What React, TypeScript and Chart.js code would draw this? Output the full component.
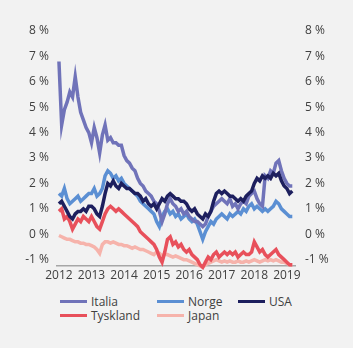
import React, { useEffect, useRef } from "react";
import { Chart, registerables } from "chart.js";

Chart.register(...registerables);

// Monthly observations, Jan 2012 .. Mar 2019
const dates: number[] = Array.from({ length: 87 }, (_, i) => 2012 + i / 12);

const yearTicks = [2012, 2013, 2014, 2015, 2016, 2017, 2018, 2019];

const italia = [
  6.8, 4.3, 4.9, 5.2, 5.6, 5.4, 6.2, 5.4, 4.8, 4.5,
  4.2, 4.0, 3.6, 4.2, 3.8, 3.2, 3.9, 4.3, 3.7, 3.8,
  3.6, 3.6, 3.5, 3.5, 3.1, 2.9, 2.8, 2.6, 2.5, 2.2,
  2.0, 1.9, 1.7, 1.6, 1.5, 1.3, 1.2, 0.9, 0.5, 0.8,
  1.2, 1.4, 1.2, 1.1, 0.9, 1.0, 0.8, 0.9, 0.7, 0.6,
  0.5, 0.5, 0.4, 0.3, 0.4, 0.7, 0.9, 1.1, 1.2, 1.3,
  1.4, 1.3, 1.2, 1.4, 1.1, 1.2, 1.0, 1.2, 1.3, 1.2,
  1.5, 1.6, 1.7, 1.4, 1.2, 1.1, 2.3, 2.2, 2.5, 2.4,
  2.8, 2.9, 2.5, 2.2, 2.0, 1.9, 1.9,
];

const usa = [
  1.2, 1.3, 1.1, 0.9, 0.7, 0.6, 0.8, 0.9, 0.9, 1.0,
  0.9, 1.1, 1.1, 1.0, 0.8, 0.7, 1.1, 1.6, 2.0, 1.9,
  2.1, 1.9, 1.8, 2.0, 1.9, 1.8, 1.8, 1.7, 1.6, 1.6,
  1.5, 1.3, 1.4, 1.2, 1.1, 1.2, 1.0, 1.2, 1.4, 1.3,
  1.5, 1.6, 1.5, 1.4, 1.4, 1.3, 1.3, 1.2, 1.0, 0.9,
  1.0, 0.8, 0.7, 0.6, 0.8, 0.7, 0.9, 1.3, 1.6, 1.7,
  1.6, 1.7, 1.6, 1.5, 1.5, 1.4, 1.3, 1.4, 1.3, 1.5,
  1.6, 1.7, 2.0, 2.2, 2.1, 2.3, 2.2, 2.3, 2.2, 2.4,
  2.3, 2.4, 2.1, 1.9, 1.8, 1.6, 1.7,
];

const norge = [
  1.6, 1.5, 1.8, 1.4, 1.2, 1.3, 1.4, 1.5, 1.3, 1.4,
  1.5, 1.6, 1.6, 1.8, 1.5, 1.6, 1.8, 2.3, 2.5, 2.4,
  2.2, 2.3, 2.1, 2.2, 2.0, 1.9, 1.8, 1.7, 1.6, 1.5,
  1.3, 1.2, 1.1, 1.0, 0.9, 0.8, 0.5, 0.3, 0.7, 0.9,
  1.0, 0.8, 0.9, 0.7, 0.8, 0.6, 0.7, 0.8, 0.6, 0.5,
  0.6, 0.4, 0.1, -0.2, 0.1, 0.3, 0.5, 0.4, 0.6, 0.7,
  0.8, 0.7, 0.6, 0.8, 0.7, 0.8, 0.9, 0.8, 1.0, 0.9,
  1.1, 1.2, 1.0, 1.1, 1.0, 0.9, 1.0, 0.9, 1.0, 1.1,
  1.3, 1.2, 1.0, 0.9, 0.8, 0.7, 0.7,
];

const tyskland = [
  0.9, 1.0, 0.6, 0.7, 0.5, 0.2, 0.4, 0.6, 0.5, 0.7,
  0.6, 0.5, 0.7, 0.5, 0.3, 0.2, 0.5, 0.8, 1.0, 1.1,
  1.0, 0.9, 1.0, 0.9, 0.8, 0.7, 0.6, 0.5, 0.4, 0.3,
  0.1, 0.0, -0.1, -0.2, -0.3, -0.4, -0.6, -0.9, -1.1, -0.7,
  -0.2, -0.1, -0.4, -0.3, -0.5, -0.4, -0.6, -0.7, -0.6, -0.8,
  -0.9, -1.0, -1.2, -1.3, -1.1, -0.9, -1.0, -0.8, -0.7, -0.9,
  -0.8, -0.7, -0.8, -0.7, -0.8, -0.7, -0.9, -0.8, -0.7, -0.8,
  -0.8, -0.7, -0.3, -0.5, -0.7, -0.6, -0.8, -0.9, -0.8, -0.7,
  -0.6, -0.8, -0.9, -1.0, -1.1, -1.2, -1.2,
];

const japan = [
  -0.05, -0.1, -0.15, -0.2, -0.2, -0.25, -0.3, -0.3, -0.35, -0.35,
  -0.4, -0.4, -0.45, -0.5, -0.6, -0.75, -0.4, -0.3, -0.3, -0.35,
  -0.3, -0.35, -0.4, -0.4, -0.45, -0.45, -0.5, -0.55, -0.5, -0.55,
  -0.6, -0.6, -0.65, -0.7, -0.75, -0.8, -0.7, -0.75, -0.85, -0.8,
  -0.8, -0.85, -0.9, -0.85, -0.9, -0.95, -1.0, -1.0, -1.05, -1.1,
  -1.15, -1.2, -1.25, -1.3, -1.2, -1.15, -1.1, -1.05, -1.0, -1.05,
  -1.1, -1.05, -1.1, -1.05, -1.1, -1.1, -1.05, -1.1, -1.1, -1.05,
  -1.1, -1.05, -1.0, -1.05, -1.1, -1.05, -1.0, -1.05, -1.0, -1.05,
  -1.0, -1.05, -1.1, -1.1, -1.15, -1.2, -1.2,
];

const seriesNames = ["Italia", "Norge", "USA", "Tyskland", "Japan"];
const seriesColors = ["#7073b9", "#5b8fd3", "#1d1f5e", "#e8505b", "#f6b3ab"];
const seriesValues = [italia, norge, usa, tyskland, japan];
const drawOrder = [1, 2, 0, 3, 4];

const FONT = "'Open Sans', sans-serif";
const TEXT = "#404040";

export default function App() {
  const ref = useRef<HTMLCanvasElement | null>(null);

  useEffect(() => {
    if (!ref.current) return;
    const datasets = seriesNames.map((name, i) => ({
      label: name,
      data: dates.map((d, k) => ({ x: d, y: seriesValues[i][k] })),
      borderColor: seriesColors[i],
      backgroundColor: seriesColors[i],
      borderWidth: 3.5,
      pointRadius: 0,
      tension: 0,
      clip: 4,
      order: drawOrder[i],
      yAxisID: "y",
    }));
    const yTickCb = (v: any) => (Number.isInteger(v) ? `${v} %` : null);
    const chart = new Chart(ref.current, {
      type: "line",
      data: { datasets },
      options: {
        animation: false,
        responsive: false,
        maintainAspectRatio: false,
        layout: { padding: { top: 31, bottom: 0, left: 0, right: 0 } },
        plugins: { legend: { display: false }, tooltip: { enabled: false } },
        scales: {
          x: {
            type: "linear",
            min: 2011.94,
            max: 2019.25,
            afterBuildTicks: (scale: any) => {
              scale.ticks = yearTicks.map((v) => ({ value: v }));
            },
            afterFit: (scale: any) => {
              scale.height = 20;
            },
            ticks: {
              includeBounds: false,
              stepSize: 1,
              autoSkip: false,
              maxRotation: 0,
              padding: 2,
              color: TEXT,
              font: { family: FONT, size: 12 },
              callback: (v: any) => String(v),
            },
            grid: { display: false, drawTicks: false },
            border: { display: true, color: "#a6a6a6", width: 1.5 },
          },
          y: {
            type: "linear",
            position: "left",
            min: -1.25,
            max: 8,
            afterFit: (scale: any) => {
              scale.width = 57;
            },
            ticks: {
              includeBounds: false,
              stepSize: 1,
              padding: 8,
              color: TEXT,
              font: { family: FONT, size: 12 },
              callback: yTickCb,
            },
            grid: { display: false, drawTicks: false },
            border: { display: false },
          },
          y2: {
            type: "linear",
            position: "right",
            min: -1.25,
            max: 8,
            afterFit: (scale: any) => {
              scale.width = 58;
            },
            ticks: {
              includeBounds: false,
              stepSize: 1,
              padding: 10,
              color: TEXT,
              font: { family: FONT, size: 12 },
              callback: yTickCb,
            },
            grid: { display: false, drawTicks: false },
            border: { display: false },
          },
        },
      },
    });
    return () => chart.destroy();
  }, []);

  const legendPos = [
    { x: 60, y: 301 },
    { x: 157, y: 301 },
    { x: 238, y: 301 },
    { x: 60, y: 315 },
    { x: 157, y: 315 },
  ];
  const legendIdx = [0, 1, 2, 3, 4];

  return (
    <div
      style={{
        position: "fixed",
        left: 0,
        top: 0,
        width: 353,
        height: 348,
        background: "#f2f2f2",
        overflow: "hidden",
        fontFamily: FONT,
      }}
    >
      <canvas
        ref={ref}
        width={353}
        height={286}
        style={{ position: "absolute", left: 0, top: 0, width: 353, height: 286 }}
      />
      {legendIdx.map((i) => (
        <div
          key={seriesNames[i]}
          style={{
            position: "absolute",
            left: legendPos[i].x,
            top: legendPos[i].y - 8,
            height: 16,
            display: "flex",
            alignItems: "center",
            fontSize: 12,
            color: TEXT,
            whiteSpace: "nowrap",
          }}
        >
          <span
            style={{
              display: "inline-block",
              width: 27,
              height: 3,
              background: seriesColors[i],
              marginRight: 4,
            }}
          />
          <span>{seriesNames[i]}</span>
        </div>
      ))}
    </div>
  );
}
